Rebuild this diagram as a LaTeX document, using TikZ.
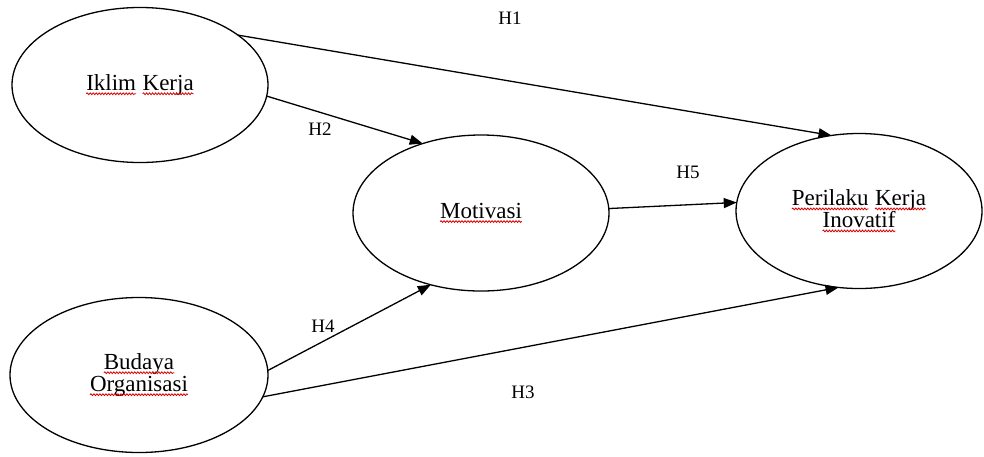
\documentclass[tikz,border=0pt]{standalone}
\usepackage{fontspec}
\setmainfont{Liberation Serif}
\usetikzlibrary{shapes.geometric,arrows.meta,decorations.pathmorphing}
\newcommand\wv[1]{\tikz[baseline=(w.base)]{\node[shape=rectangle,draw=none,inner sep=0pt,outer sep=0pt,minimum width=0pt,minimum height=0pt](w){#1};\draw[red!85!black,line width=0.8pt,decorate,decoration={snake,amplitude=0.9pt,segment length=3pt}]([yshift=-3.2pt]w.base west)--([yshift=-3.2pt]w.base east);}}
\tikzset{
  var/.style={ellipse,draw,line width=1.3pt,minimum width=256pt,minimum height=155pt,inner sep=0pt,outer sep=0pt,font=\fontsize{23}{22}\selectfont,align=center},
  link/.style={line width=1.3pt,-{Triangle[length=13pt,width=10pt]}},
  hlab/.style={font=\fontsize{19}{22}\selectfont,inner sep=0pt}
}
\begin{document}
\begin{tikzpicture}[x=1pt,y=1pt]
\useasboundingbox (0,0) rectangle (984,-456);
\node[var] (ik) at (140,-85) {\wv{Iklim} \wv{Kerja}};
\node[var,minimum width=258pt] (bo) at (139,-375) {\wv{Budaya}\\\wv{Organisasi}};
\node[var,minimum height=156pt] (mo) at (481,-213) {\wv{Motivasi}};
\node[var,minimum width=246pt] (pk) at (859,-211) {\wv{Perilaku} \wv{Kerja}\\\wv{Inovatif}};
\draw[link] (ik.27) -- (pk.110);
\draw[link] (ik.-5) -- (mo.130);
\draw[link] (mo.2) -- (pk.176);
\draw[link] (bo.2) -- (mo.235);
\draw[link] (bo.-10) -- (pk.255);
\node[hlab] (h1) at (510,-18) {H1};
\node[hlab] (h2) at (320,-129) {H2};
\node[hlab] (h5) at (688,-172) {H5};
\node[hlab] (h4) at (323,-326) {H4};
\node[hlab] (h3) at (523,-392) {H3};
\end{tikzpicture}
\end{document}
